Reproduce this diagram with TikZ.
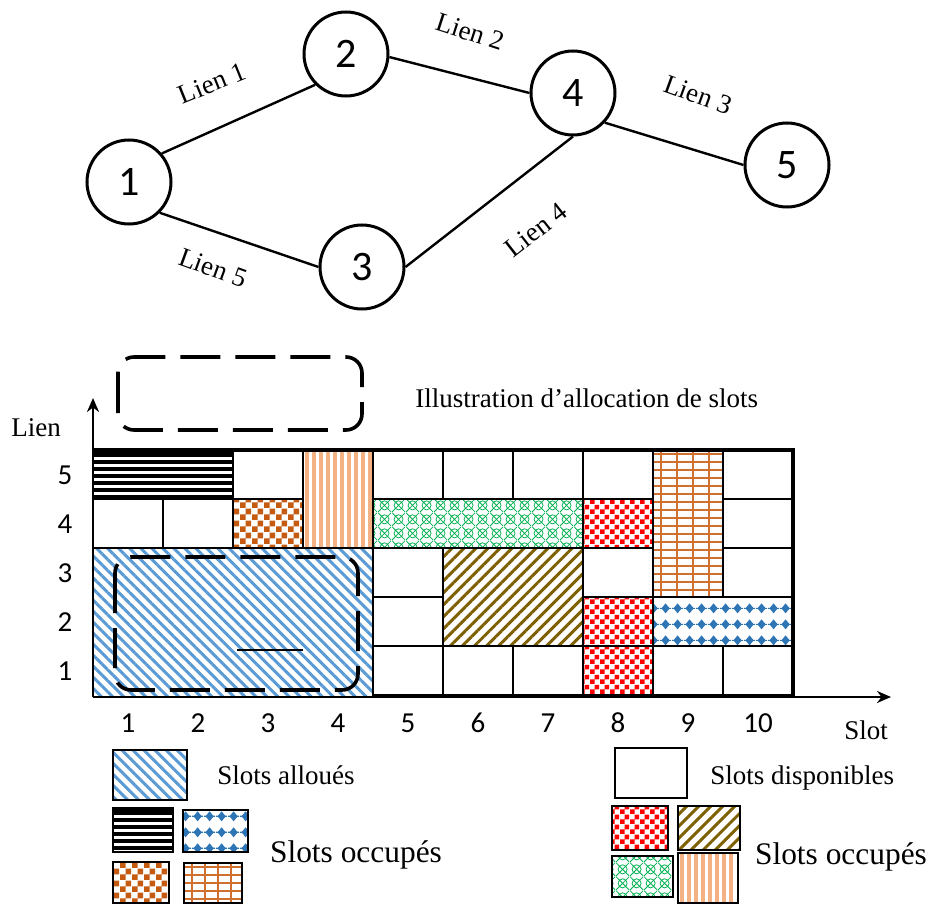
\documentclass[tikz,border=0pt]{standalone}
\usepackage{fontspec}
\setmainfont{Liberation Serif}
\newfontfamily\numfont{Carlito}
\usetikzlibrary{arrows.meta,patterns,patterns.meta}

\definecolor{allocblue}{RGB}{91,155,213}
\definecolor{olivebr}{RGB}{127,96,0}
\definecolor{brorange}{RGB}{197,90,17}
\definecolor{liteorange}{RGB}{244,177,131}
\definecolor{gridorange}{RGB}{208,112,46}
\definecolor{latgreen}{RGB}{0,176,80}
\definecolor{dotblue}{RGB}{46,117,182}

% patterns for the occupied slots
\pgfdeclarepatternformonly{redcheck}{\pgfpointorigin}{\pgfpoint{5pt}{5pt}}{\pgfpoint{5pt}{5pt}}{%
  \pgfpathrectangle{\pgfpointorigin}{\pgfpoint{2.5pt}{2.5pt}}%
  \pgfpathrectangle{\pgfpoint{2.5pt}{2.5pt}}{\pgfpoint{2.5pt}{2.5pt}}%
  \pgfusepath{fill}}
\pgfdeclarepatternformonly{browncheck}{\pgfpointorigin}{\pgfpoint{6pt}{6pt}}{\pgfpoint{6pt}{6pt}}{%
  \pgfpathrectangle{\pgfpointorigin}{\pgfpoint{3pt}{3pt}}%
  \pgfpathrectangle{\pgfpoint{3pt}{3pt}}{\pgfpoint{3pt}{3pt}}%
  \pgfusepath{fill}}
\pgfdeclarepatternformonly{lattice}{\pgfpointorigin}{\pgfpoint{7pt}{7pt}}{\pgfpoint{7pt}{7pt}}{%
  \pgfsetlinewidth{0.4pt}%
  \pgfpathcircle{\pgfpoint{3.5pt}{3.5pt}}{2.4pt}%
  \pgfpathmoveto{\pgfpointorigin}\pgfpathlineto{\pgfpoint{7pt}{7pt}}%
  \pgfpathmoveto{\pgfpoint{0pt}{7pt}}\pgfpathlineto{\pgfpoint{7pt}{0pt}}%
  \pgfusepath{stroke}}
\pgfdeclarepatternformonly{diamonds}{\pgfpointorigin}{\pgfpoint{6pt}{8pt}}{\pgfpoint{6pt}{8pt}}{%
  \pgfpathmoveto{\pgfpoint{3pt}{1.4pt}}\pgfpathlineto{\pgfpoint{5.2pt}{4pt}}%
  \pgfpathlineto{\pgfpoint{3pt}{6.6pt}}\pgfpathlineto{\pgfpoint{0.8pt}{4pt}}\pgfpathclose
  \pgfusepath{fill}%
  \pgfpathrectangle{\pgfpoint{0pt}{3.7pt}}{\pgfpoint{6pt}{0.6pt}}%
  \pgfusepath{fill}}

\begin{document}
\begin{tikzpicture}[x=0.5pt, y=-0.5pt, >=Stealth,
    router/.style={circle, draw, line width=1.5pt, minimum size=42pt, inner sep=0pt,
      font=\numfont\fontsize{21}{24}\selectfont},
    link/.style={line width=1.2pt},
    lbl/.style={font=\fontsize{13.5}{16}\selectfont, inner sep=1pt},
    big/.style={font=\fontsize{15.7}{18}\selectfont, inner sep=1pt},
    num/.style={font=\numfont\fontsize{14.5}{17}\selectfont},
    cell/.style={draw, line width=1pt},
    blk/.style={draw, line width=0.8pt},
    swatch/.style={draw, line width=1pt},
    hline/.style={line width=1.8pt},
    vline/.style={liteorange, line width=1.6pt},
    gline/.style={gridorange, line width=0.9pt},
    alloc/.style={pattern={Lines[angle=-45,distance=3.9pt,line width=1.5pt]}, pattern color=allocblue},
    olivestripes/.style={pattern={Lines[angle=45,distance=4.25pt,line width=1.5pt]}, pattern color=olivebr},
    dashbox/.style={line width=1.8pt, dash pattern=on 20pt off 7.5pt, rounded corners=8pt}]
    \useasboundingbox (0,0) rectangle (931,904);

    % Network
    \node[router] (n1) at (129,182) {1};
    \node[router] (n2) at (346,54) {2};
    \node[router] (n3) at (362,267) {3};
    \node[router] (n4) at (573,93) {4};
    \node[router] (n5) at (787,165) {5};
    \draw[link] (n1.41) -- (n2.225);
    \draw[link] (n2.356) -- (n4.west);
    \draw[link] (n4.317) -- (n5.west);
    \draw[link] (n1.315) -- (n3.west);
    \draw[link] (n3.east) -- (n4.south);
    \node[lbl, rotate=22] (l1) at (212,83) {Lien 1};
    \node[lbl, rotate=-18] (l2) at (470,32) {Lien 2};
    \node[lbl, rotate=-20] (l3) at (698,95) {Lien 3};
    \node[lbl, rotate=38] (l4) at (536,230) {Lien 4};
    \node[lbl, rotate=-20] (l5) at (213,268) {Lien 5};

    % Occupied and allocated slots
    \fill[alloc] (93,548) rectangle (373,695);
    \fill[olivestripes] (443,548) rectangle (583,646);
    \fill (93,450) rectangle (233,457);
    \foreach \y in {462,469,...,497} \draw[hline] (93,\y) -- (233,\y);
    \draw[blk, pattern=browncheck, pattern color=brorange] (233,499) rectangle (303,548);
    \foreach \x in {307,314,...,370} \draw[vline] (\x,450) -- (\x,548);
    \draw[blk] (303,450) rectangle (373,548);
    \draw[blk, pattern=lattice, pattern color=latgreen] (373,499) rectangle (583,548);
    \foreach \y in {499,597,646}
      \draw[blk, pattern=redcheck, pattern color=red] (583,\y) rectangle (653,\y+49);
    \foreach \x in {661,677,...,709} \draw[gline] (\x,450) -- (\x,597);
    \foreach \y in {454,462,...,594} \draw[gline] (653,\y) -- (723,\y);
    \draw[blk] (653,450) rectangle (723,597);
    \draw[blk, pattern=diamonds, pattern color=dotblue] (653,597) rectangle (793,646);

    % Free slots
    \foreach \c/\r in {3/5,5/5,6/5,7/5,8/5,10/5,1/4,2/4,10/4,5/3,8/3,10/3,5/2,5/1,6/1,7/1,9/1,10/1}
      \draw[cell] ({23+70*\c},{695-49*\r}) rectangle ({93+70*\c},{744-49*\r});
    \draw[line width=2pt] (93,450) -- (793,450) -- (793,697);
    \draw[line width=0.6pt] (237,650) -- (303,650);
    \draw[dashbox] (115,557) rectangle (358,690);

    % Axes
    \coordinate (O) at (93,697);
    \coordinate (ytip) at (93,398);
    \coordinate (xtip) at (891,697);
    \draw[line width=1.3pt, -{Stealth[length=7pt, width=6pt]}] (O) -- (ytip);
    \draw[line width=1.3pt, -{Stealth[length=7pt, width=6pt]}] (O) -- (xtip);
    \foreach \i in {1,...,10} \node[num] (s\i) at ({58+70*\i},723) {\i};
    \foreach \i in {1,...,5} \node[num] (r\i) at (65,{720-49*\i}) {\i};
    \node[lbl] (lien) at (36,428) {Lien};
    \node[lbl] (slot) at (866,730) {Slot};

    % Key
    \draw[dashbox] (118,357) rectangle (362,430);
    \node[lbl, anchor=west] (title) at (413,398) {Illustration d’allocation de slots};
    \draw[swatch, alloc] (113,750) rectangle (187,800);
    \fill (113,808) rectangle (173,815);
    \foreach \y in {820,827,...,848} \draw[hline] (113,\y) -- (173,\y);
    \draw[swatch] (113,808) rectangle (173,852);
    \draw[swatch, pattern=diamonds, pattern color=dotblue] (183,810) rectangle (248,852);
    \draw[swatch, pattern=browncheck, pattern color=brorange] (113,862) rectangle (169,903);
    \foreach \x in {192,205,...,231} \draw[gline] (\x,863) -- (\x,903);
    \foreach \y in {867,875,...,899} \draw[gline] (184,\y) -- (242,\y);
    \draw[swatch] (184,863) rectangle (242,903);
    \node[lbl, anchor=west] (kalloc) at (215,775) {Slots alloués};
    \node[big] (kocc1) at (356,855) {Slots occupés};
    \draw[swatch] (615,748) rectangle (687,798);
    \draw[swatch, pattern=redcheck, pattern color=red] (612,806) rectangle (668,850);
    \draw[swatch, olivestripes] (678,806) rectangle (740,850);
    \draw[swatch, pattern=lattice, pattern color=latgreen] (612,856) rectangle (673,897);
    \foreach \x in {682,689,...,735} \draw[vline] (\x,853) -- (\x,903);
    \draw[swatch] (678,853) rectangle (738,903);
    \node[lbl, anchor=west] (kfree) at (708,778) {Slots disponibles};
    \node[big] (kocc2) at (841,857) {Slots occupés};
\end{tikzpicture}
\end{document}
